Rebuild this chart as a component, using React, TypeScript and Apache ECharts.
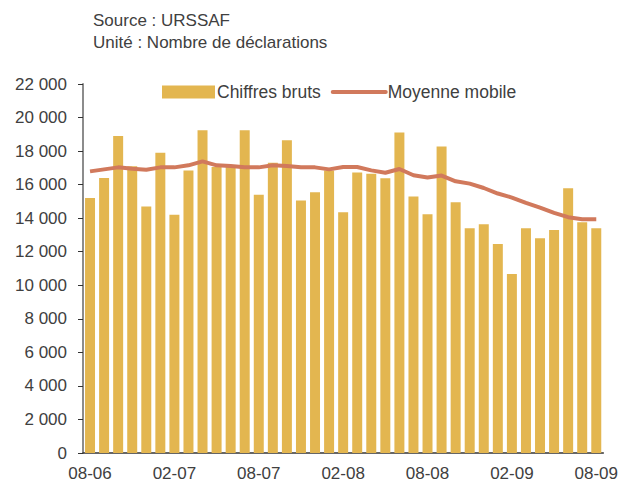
import React, { useEffect, useRef } from "react";
import * as echarts from "echarts";

const months: string[] = [
  "08-06", "09-06", "10-06", "11-06", "12-06", "01-07", "02-07", "03-07", "04-07", "05-07", "06-07", "07-07",
  "08-07", "09-07", "10-07", "11-07", "12-07", "01-08", "02-08", "03-08", "04-08", "05-08", "06-08", "07-08",
  "08-08", "09-08", "10-08", "11-08", "12-08", "01-09", "02-09", "03-09", "04-09", "05-09", "06-09", "07-09",
  "08-09",
];

const chiffresBruts: number[] = [
  15200, 16400, 18900, 17100, 14700, 17900, 14200, 16850, 19250, 17050, 17050, 19250,
  15400, 17300, 18650, 15050, 15550, 16850, 14350, 16730, 16650, 16380, 19110, 15300,
  14240, 18280, 14950, 13400, 13640, 12460, 10670, 13400, 12810, 13290, 15780, 13760,
  13400,
];

const moyenneMobile: number[] = [
  16790, 16910, 17030, 16950, 16890, 17030, 17030, 17150, 17390, 17150, 17110, 17030,
  17030, 17150, 17110, 17030, 17030, 16910, 17050, 17050, 16850, 16710, 16930, 16560,
  16420, 16540, 16200, 16060, 15800, 15470, 15230, 14910, 14630, 14320, 14060, 13940,
  13940,
];

const yMin = 0;
const yMax = 22000;
const yStep = 2000;

const BAR_COLOR = "#E3B650";
const LINE_COLOR = "#D1795C";
const TEXT_COLOR = "#404040";
const FONT = "'Liberation Sans', Arial, sans-serif";

function fmt(v: number): string {
  if (v === 0) return "0";
  const s = String(Math.round(v));
  return s.replace(/\B(?=(\d{3})+(?!\d))/g, " ");
}

export default function App() {
  const ref = useRef<HTMLDivElement>(null);

  useEffect(() => {
    document.body.style.margin = "0";
    if (!ref.current) return;
    const chart = echarts.init(ref.current, undefined, { renderer: "svg" });
    chart.setOption({
      animation: false,
      backgroundColor: "#ffffff",
      textStyle: { fontFamily: FONT },
      graphic: [
        {
          type: "text",
          left: 93,
          top: 12,
          style: { text: "Source : URSSAF", fontSize: 17, fontFamily: FONT, fill: TEXT_COLOR },
        },
        {
          type: "text",
          left: 93,
          top: 33.5,
          style: { text: "Unité : Nombre de déclarations", fontSize: 17, fontFamily: FONT, fill: TEXT_COLOR },
        },
      ],
      legend: {
        left: 157,
        top: 78,
        itemWidth: 53,
        itemHeight: 13,
        itemGap: 10,
        textStyle: { fontSize: 17.5, color: TEXT_COLOR, fontFamily: FONT, padding: [0, 0, 0, -3] },
        data: [
          { name: "Chiffres bruts", icon: "rect" },
          {
            name: "Moyenne mobile",
            itemStyle: { opacity: 0 },
            lineStyle: { width: 4, color: LINE_COLOR, cap: "round" },
          },
        ],
      },
      grid: { left: 83, right: 17, top: 84, bottom: 34, containLabel: false },
      xAxis: {
        type: "category",
        data: months,
        boundaryGap: true,
        axisLine: { lineStyle: { color: "#333333", width: 1.5 } },
        axisTick: { interval: 5, length: 6, lineStyle: { color: "#333333" } },
        axisLabel: {
          interval: 5,
          fontSize: 17,
          color: TEXT_COLOR,
          fontFamily: FONT,
          margin: 12,
        },
      },
      yAxis: {
        type: "value",
        min: yMin,
        max: yMax,
        interval: yStep,
        splitLine: { show: false },
        axisLine: { show: true, lineStyle: { color: "#8c8c8c", width: 2 } },
        axisTick: { show: true, length: 5, lineStyle: { color: "#333333" } },
        axisLabel: {
          fontSize: 17,
          color: TEXT_COLOR,
          fontFamily: FONT,
          margin: 16,
          formatter: (v: number) => fmt(v),
        },
      },
      series: [
        {
          name: "Chiffres bruts",
          type: "bar",
          data: chiffresBruts,
          barCategoryGap: "29%",
          itemStyle: { color: BAR_COLOR },
        },
        {
          name: "Moyenne mobile",
          type: "line",
          data: moyenneMobile,
          symbol: "none",
          smooth: false,
          lineStyle: { color: LINE_COLOR, width: 4 },
          itemStyle: { color: LINE_COLOR },
        },
      ],
    });
    return () => chart.dispose();
  }, []);

  return <div ref={ref} style={{ width: 621, height: 487 }} />;
}
